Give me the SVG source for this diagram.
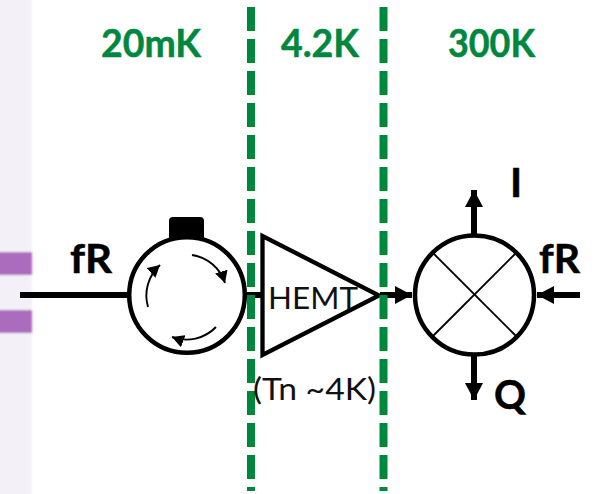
<svg xmlns="http://www.w3.org/2000/svg" width="596" height="494" viewBox="0 0 596 494">
<style>
.dash{stroke:#00873e;stroke-width:8;stroke-dasharray:24 8;fill:none}
.temp{font:bold 38px Lato,"Open Sans","Liberation Sans",sans-serif;fill:#00873e;stroke:#00873e;stroke-width:.5}
.lab{font:bold 41px Lato,"Open Sans","Liberation Sans",sans-serif;fill:#000;stroke:#000;stroke-width:.5}
.thin{font:31px Lato,"Open Sans","Liberation Sans",sans-serif;fill:#111}
.wire{stroke:#000;stroke-width:6;fill:none}
.outl{stroke:#000;stroke-width:4.5;fill:#fff}
.fine{stroke:#000;stroke-width:1.9;fill:none}
</style>
<defs>
<filter id="soft" filterUnits="userSpaceOnUse" x="-20" y="-20" width="80" height="540"><feGaussianBlur stdDeviation="0.9"/></filter>
<marker id="big" markerUnits="userSpaceOnUse" markerWidth="18" markerHeight="18" refX="17" refY="9" orient="auto"><path d="M0 0L17 9L0 18Z" fill="#000"/></marker>
<marker id="small" markerUnits="userSpaceOnUse" markerWidth="13" markerHeight="13" refX="12" refY="6.5" orient="auto"><path d="M0 0L12 6.5L0 13Z" fill="#000"/></marker>
</defs>
<rect width="596" height="494" fill="#fff"/>
<g id="backdrop" filter="url(#soft)">
<rect x="-15" y="-15" width="47" height="524" fill="#f3f1f7"/>
<rect x="-15" y="252" width="47" height="23" fill="#ab6cbd"/>
<rect x="-15" y="310" width="47" height="23" fill="#ab6cbd"/>
</g>
<g id="connectors">
<line class="wire" x1="20" y1="295" x2="128" y2="295"/>
<line class="wire" x1="246" y1="295" x2="262" y2="295"/>
<line class="wire" x1="380" y1="295" x2="412" y2="295" marker-end="url(#big)"/>
<line class="wire" x1="580" y1="295" x2="537" y2="295" marker-end="url(#big)"/>
<line class="wire" x1="474" y1="234" x2="474" y2="190" marker-end="url(#big)"/>
<line class="wire" x1="474" y1="356" x2="474" y2="400" marker-end="url(#big)"/>
</g>
<g id="circulator">
<rect x="169" y="217" width="35" height="24" rx="4" fill="#000"/>
<circle class="outl" cx="187" cy="295" r="57.8"/>
<path class="fine" d="M192 255A41 41 0 0 1 225 283" marker-end="url(#small)"/>
<path class="fine" d="M216 327A41 41 0 0 1 172 337" marker-end="url(#small)"/>
<path class="fine" d="M148 307A41 41 0 0 1 160 265" marker-end="url(#small)"/>
</g>
<g id="hemt">
<path d="M262.5 236L262.5 355L379 295.5Z" fill="none" stroke="#000" stroke-width="4.3"/>
</g>
<g id="mixer">
<circle class="outl" cx="474.5" cy="295" r="59.5"/>
<line class="fine" x1="433" y1="253" x2="516" y2="336"/>
<line class="fine" x1="516" y1="253" x2="433" y2="336"/>
</g>
<g id="boundaries">
<line class="dash" x1="251" y1="7" x2="251" y2="491"/>
<line class="dash" x1="383.5" y1="7" x2="383.5" y2="491"/>
</g>
<g id="temperatures">
<text class="temp" x="101" y="57" textLength="100" lengthAdjust="spacingAndGlyphs">20mK</text>
<text class="temp" x="281" y="57" textLength="78" lengthAdjust="spacingAndGlyphs">4.2K</text>
<text class="temp" x="448" y="57" textLength="87" lengthAdjust="spacingAndGlyphs">300K</text>
</g>
<g id="labels">
<text class="thin" x="268" y="309" textLength="90" lengthAdjust="spacingAndGlyphs">HEMT</text>
<text class="thin" x="253" y="400" textLength="123" lengthAdjust="spacingAndGlyphs">(Tn ~4K)</text>
<text class="lab" x="70" y="273" textLength="42" lengthAdjust="spacingAndGlyphs">fR</text>
<text class="lab" x="539" y="273" textLength="41" lengthAdjust="spacingAndGlyphs">fR</text>
<text class="lab" x="510" y="197">I</text>
<text class="lab" x="494" y="409" textLength="32" lengthAdjust="spacingAndGlyphs">Q</text>
</g>
</svg>
